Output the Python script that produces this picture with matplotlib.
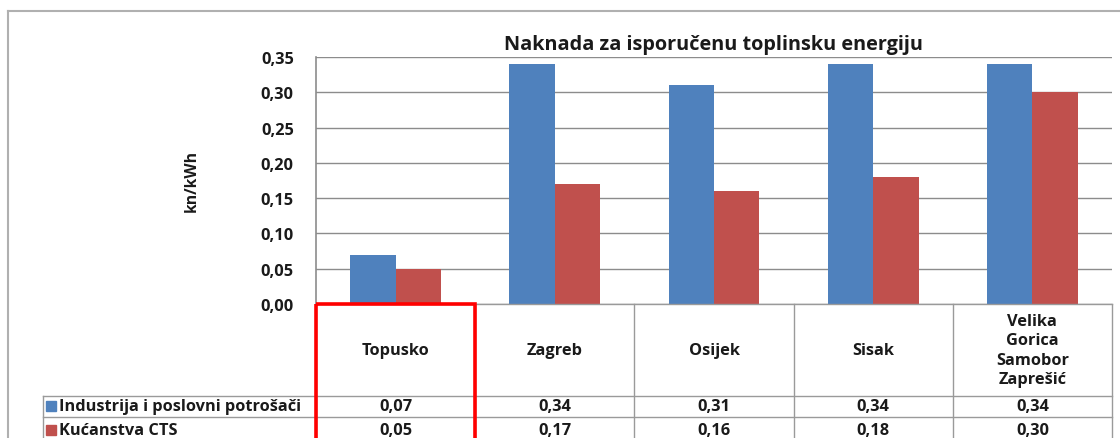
import matplotlib
matplotlib.use("Agg")
import matplotlib.pyplot as plt
from matplotlib.patches import Rectangle

plt.rcParams['font.family'] = ['Open Sans', 'DejaVu Sans']

cities = ["Topusko", "Zagreb", "Osijek", "Sisak", "Velika\nGorica\nSamobor\nZaprešić"]
industrija = [0.07, 0.34, 0.31, 0.34, 0.34]
kucanstva = [0.05, 0.17, 0.16, 0.18, 0.30]
series_names = ["Industrija i poslovni potrošači", "Kućanstva CTS"]
colors = ["#4F81BD", "#C0504D"]
yticks = [0.00, 0.05, 0.10, 0.15, 0.20, 0.25, 0.30, 0.35]

W, H = 1120, 439
fig = plt.figure(figsize=(W / 100, H / 100), dpi=100)
txt = "#1a1a1a"
fs = 11.8

# plot area in pixels
px_left, px_right, px_top, px_bottom = 316, 1112, 58, 305
ax = fig.add_axes([px_left / W, 1 - px_bottom / H,
                   (px_right - px_left) / W, (px_bottom - px_top) / H])

n = len(cities)
bw = 0.285
xs = list(range(n))
ax.bar([x - bw / 2 for x in xs], industrija, bw, color=colors[0], zorder=3)
ax.bar([x + bw / 2 for x in xs], kucanstva, bw, color=colors[1], zorder=3)
ax.set_xlim(-0.5, n - 0.5)
ax.set_ylim(0, 0.35)
ax.set_yticks(yticks)
ax.set_yticklabels([f"{v:.2f}".replace(".", ",") for v in yticks],
                   fontsize=fs, fontweight="bold", color=txt)
ax.set_xticks([])
ax.tick_params(axis="y", length=0, pad=16)
ax.grid(axis="y", color="#8c8c8c", linewidth=1, zorder=0)
for s in ["right", "bottom", "top"]:
    ax.spines[s].set_visible(False)
ax.spines["left"].set_color("#8c8c8c")
ax.spines["left"].set_linewidth(1.2)
ax.set_ylabel("kn/kWh", fontsize=fs - 0.5, fontweight="bold", labelpad=44, color=txt)
ax.set_title("Naknada za isporučenu toplinsku energiju", fontsize=14.3,
             fontweight="bold", pad=6, color=txt)

# overlay in pixel coordinates for chart border and data table
ov = fig.add_axes([0, 0, 1, 1], zorder=5)
ov.set_xlim(0, W)
ov.set_ylim(H, 0)
ov.axis("off")
ov.patch.set_alpha(0)

grey = "#9a9a9a"
# outer chart border
ov.plot([8, W], [12, 12], color="#b0b0b0", lw=1.5)
ov.plot([8, 8], [12, H], color="#b0b0b0", lw=1.5)

cw = (px_right - px_left) / n
row1, row2, row3 = 397, 418, 446
leg_left = 43
ov.plot([px_left, px_right], [px_bottom, px_bottom], color=grey, lw=1)
ov.plot([leg_left, px_right], [row1, row1], color=grey, lw=1)
ov.plot([leg_left, px_right], [row2, row2], color=grey, lw=1)
ov.plot([leg_left, leg_left], [row1, row3], color=grey, lw=1)
for i in range(n + 1):
    ov.plot([px_left + i * cw] * 2, [px_bottom, row3], color=grey, lw=1)

row_centers = [(row1 + row2) / 2, (row2 + row3) / 2 - 1]
for i, city in enumerate(cities):
    cx = px_left + (i + 0.5) * cw
    ov.text(cx, (px_bottom + row1) / 2, city, ha="center", va="center",
            fontsize=fs, fontweight="bold", linespacing=1.3, color=txt)
    for vals, yc in zip([industrija, kucanstva], row_centers):
        ov.text(cx, yc, f"{vals[i]:.2f}".replace(".", ","),
                ha="center", va="center", fontsize=fs, fontweight="bold", color=txt)

for name, c, yc in zip(series_names, colors, row_centers):
    ov.add_patch(Rectangle((46, yc - 5), 10, 10, color=c))
    ov.text(59, yc, name, ha="left", va="center", fontsize=fs,
            fontweight="bold", color=txt)

# red highlight around first column
ov.add_patch(Rectangle((px_left, px_bottom), cw, 200, fill=False,
                       edgecolor="#FF0000", lw=2.6, zorder=10))

fig.savefig("out.png", dpi=100)
